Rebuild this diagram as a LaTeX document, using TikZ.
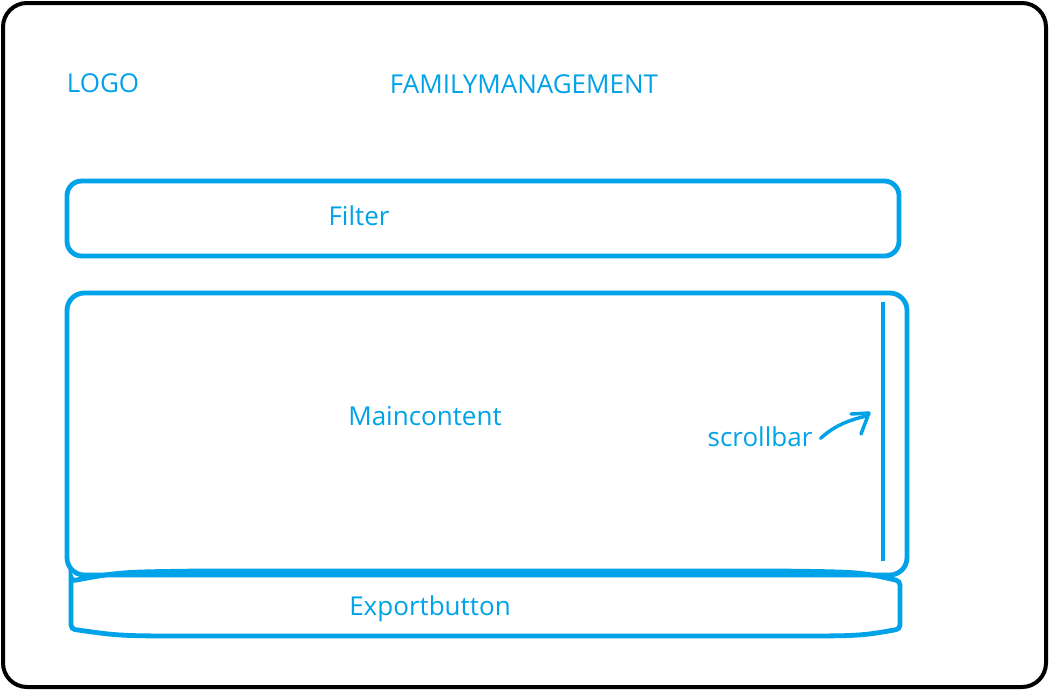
\documentclass[tikz,border=0pt]{standalone}
\usepackage{fontspec}
\setmainfont{Open Sans}
\definecolor{pblue}{HTML}{00A2E8}
\begin{document}
\begin{tikzpicture}[x=0.75pt,y=-0.75pt,
  lbl/.style={text=pblue,font=\fontsize{19.5}{23}\selectfont,inner sep=0pt},
  boxline/.style={draw=pblue,line width=3.6pt},
]
\useasboundingbox (0,0) rectangle (1050,690);
\fill[white] (0,0) rectangle (1050,690);
% outer frame
\draw[black,line width=3pt,rounded corners=18pt] (3,3) rectangle (1046,687);
\node[lbl] (logo) at (103,83) {LOGO};
\node[lbl] (title) at (524,84) {FAMILYMANAGEMENT};
% filter
\draw[boxline,rounded corners=11pt] (67,181) rectangle (899,256);
\node[lbl] (filter) at (359,216) {Filter};
% main
\draw[boxline,rounded corners=13pt] (67,293) rectangle (907,575);
\node[lbl] (main) at (425,416) {Maincontent};
\draw[pblue,line width=3.2pt] (883,302) -- (883,561);
\node[lbl] (scrolltxt) at (760,437) {scrollbar};
\coordinate (tip) at (866,416);
\draw[pblue,line width=2.6pt,line cap=round,line join=round] ([xshift=6pt,yshift=-1pt]scrolltxt.east) .. controls (835,425) and (850,420) .. (tip);
\draw[pblue,line width=2.6pt,line cap=round,line join=round] (851,414) -- (869,413) -- (861,434);
% export
\draw[boxline,rounded corners=3pt] (71,581) -- (71,629) .. controls (120,636) .. (200,636) -- (780,636) .. controls (860,636) .. (900,629) -- (900,581) .. controls (860,572) .. (780,571) -- (200,571) .. controls (120,572) .. cycle;
\node[lbl] (export) at (430,609) {Exportbutton};
\end{tikzpicture}
\end{document}
